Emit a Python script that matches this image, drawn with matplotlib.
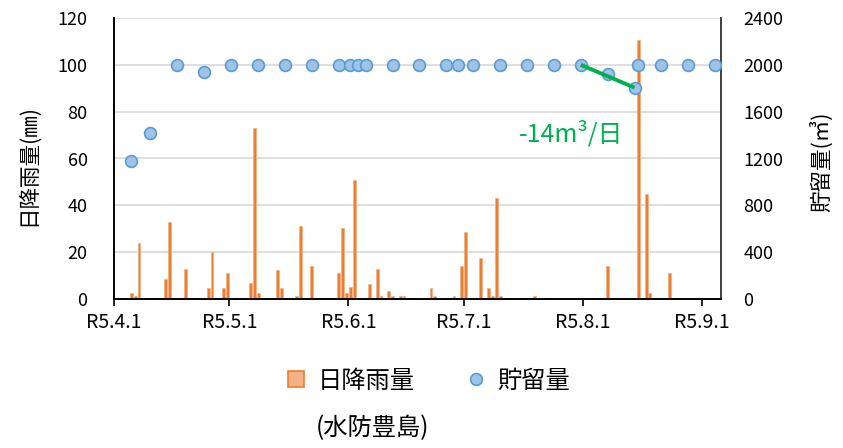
import matplotlib
matplotlib.use("Agg")
import matplotlib.pyplot as plt
import pandas as pd
from matplotlib.lines import Line2D

plt.rcParams['font.family'] = ['Noto Sans CJK JP', 'DejaVu Sans']

# daily rainfall (mm)
rain_dates = ['2023-04-05', '2023-04-06', '2023-04-07', '2023-04-14', '2023-04-15',
              '2023-04-19', '2023-04-25', '2023-04-26', '2023-04-29', '2023-04-30',
              '2023-05-06', '2023-05-07', '2023-05-08', '2023-05-13', '2023-05-14',
              '2023-05-18', '2023-05-19', '2023-05-22', '2023-05-29', '2023-05-30',
              '2023-05-31', '2023-06-01', '2023-06-02', '2023-06-06', '2023-06-08',
              '2023-06-09', '2023-06-11', '2023-06-12', '2023-06-14', '2023-06-15',
              '2023-06-22', '2023-06-23', '2023-06-28', '2023-06-30', '2023-07-01',
              '2023-07-05', '2023-07-07', '2023-07-08', '2023-07-09', '2023-07-10',
              '2023-07-19', '2023-08-07', '2023-08-15', '2023-08-17', '2023-08-18',
              '2023-08-23']
rain_mm = [2.5, 1.3, 24, 8.5, 33, 13, 4.5, 20, 4.5, 11,
           7, 73, 2.6, 12.2, 4.5, 1.3, 31, 14, 11, 30.4,
           2.6, 5, 51, 6.4, 13, 1.3, 3.3, 1.3, 1.3, 1.3,
           4.5, 1.3, 1.3, 14.2, 28.4, 17.4, 4.5, 1.3, 43.3, 1.3,
           1.3, 14.2, 110.5, 45, 2.6, 11]

# storage volume (m3)
store_dates = ['2023-04-05', '2023-04-10', '2023-04-17', '2023-04-24', '2023-05-01',
               '2023-05-08', '2023-05-15', '2023-05-22', '2023-05-29', '2023-06-01',
               '2023-06-03', '2023-06-05', '2023-06-12', '2023-06-19', '2023-06-26',
               '2023-06-29', '2023-07-03', '2023-07-10', '2023-07-17', '2023-07-24',
               '2023-07-31', '2023-08-07', '2023-08-14', '2023-08-15', '2023-08-21',
               '2023-08-28', '2023-09-04']
store_m3 = [1180, 1420, 2000, 1940, 2000, 2000, 2000, 2000, 2000, 2000,
            2000, 2000, 2000, 2000, 2000, 2000, 2000, 2000, 2000, 2000,
            2000, 1920, 1805, 2000, 2000, 2000, 2000]

trend_dates = ['2023-07-31', '2023-08-14']
trend_m3 = [2000, 1805]

tick_dates = ['2023-04-01', '2023-05-01', '2023-06-01', '2023-07-01', '2023-08-01', '2023-09-01']
tick_labels = ['R5.4.1', 'R5.5.1', 'R5.6.1', 'R5.7.1', 'R5.8.1', 'R5.9.1']

orange = '#ED7D31'
blue_face = '#9DC3E6'
blue_edge = '#5B9BD5'
green = '#00B050'

fig = plt.figure(figsize=(8.43, 4.48), dpi=100)
ax = fig.add_axes([114 / 843, 1 - 299 / 448, 607 / 843, 281 / 448])
ax2 = ax.twinx()

half = pd.Timedelta(hours=12)
ax.bar(pd.to_datetime(rain_dates) + half, rain_mm, width=0.75,
       color=orange, edgecolor='#F4B183', linewidth=0.5, zorder=2)

ax2.plot(pd.to_datetime(store_dates) + half, store_m3, ls='none', marker='o',
         ms=8.5, mfc=blue_face, mec=blue_edge, mew=1.2, zorder=3)
ax2.plot(pd.to_datetime(trend_dates) + half, trend_m3, color=green, lw=2.8,
         solid_capstyle='butt', zorder=4)
ax2.text(pd.Timestamp('2023-07-28 21:00'), 1410, '-14m³/日', color=green,
         fontsize=18, ha='center', va='center')

ax.set_xlim(pd.Timestamp('2023-04-01'), pd.Timestamp('2023-09-06'))
ax.set_xticks(pd.to_datetime(tick_dates))
ax.set_xticklabels(tick_labels, fontsize=14)
ax.tick_params(axis='x', length=5, width=1.2, pad=4, colors='black')

ax.set_ylim(0, 120)
ax.set_yticks(range(0, 121, 20))
ax.tick_params(axis='y', length=0, pad=19, labelsize=13)
ax2.set_ylim(0, 2400)
ax2.set_yticks(range(0, 2401, 400))
ax2.tick_params(axis='y', length=0, pad=16, labelsize=13)

ax.yaxis.grid(True, color='#D9D9D9', lw=1.2)
ax.set_axisbelow(True)
for a in (ax, ax2):
    a.spines['top'].set_visible(False)
    a.spines['left'].set_linewidth(1.2)
    a.spines['right'].set_linewidth(1.2)
    a.spines['bottom'].set_linewidth(1.2)
    a.spines['right'].set_color('#404040')

fig.text(28 / 843, 1 - 165 / 448, '日降雨量(㎜)', rotation=90, ha='center', va='center', fontsize=15.5)
fig.text(821 / 843, 1 - 162 / 448, '貯留量(㎥)', rotation=90, ha='center', va='center', fontsize=15.5)

handles = [Line2D([], [], ls='none', marker='s', ms=11, mfc='#F4B183', mec=orange, mew=1.2),
           Line2D([], [], ls='none', marker='o', ms=8.5, mfc=blue_face, mec=blue_edge, mew=1.2)]
fig.legend(handles, ['日降雨量', '貯留量'], loc='center', bbox_to_anchor=(427 / 843, 1 - 381 / 448),
           ncol=2, frameon=False, fontsize=17.5, columnspacing=2.0, handletextpad=0.4,
           handlelength=1.0)
fig.text(372 / 843, 1 - 428 / 448, '(水防豊島)', ha='center', va='center', fontsize=17.5)

fig.savefig('out.png', dpi=100)
